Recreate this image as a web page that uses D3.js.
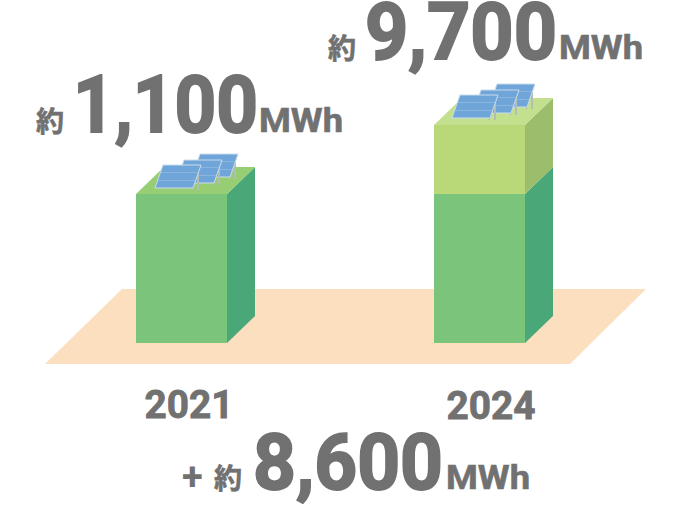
<!DOCTYPE html>
<html>
<head>
<meta charset="utf-8">
<script src="https://cdn.jsdelivr.net/npm/d3@7"></script>
<style>
  html, body { margin: 0; padding: 0; background: #fff; }
  svg { display: block; }
  text { font-family: Roboto, "Noto Sans CJK JP", sans-serif; font-weight: 700; fill: #717171; stroke: #717171; }
</style>
</head>
<body>
<div id="chart"></div>
<script>
// Data
const years = ["2021", "2024"];
const baseValues = [1100, 1100];
const addedValues = [0, 8600];
const totalLabels = ["1,100", "9,700"];
const diffLabel = "8,600";
const unit = "MWh";

const width = 690, height = 507;

// The original is not drawn to scale, so the height scale has a knee at 1,100
const y = d3.scaleLinear().domain([0, 1100, 9700]).range([343, 194, 125]);
const x = d3.scaleOrdinal().domain(years).range([136, 434]);

const barWidth = 91;
const depthX = 28, depthY = 27;

const colors = {
  floor: "#fbdfbf",
  front: "#7bc47b",
  side: "#4aa878",
  top: "#97cd73",
  addedFront: "#b9d978",
  addedSide: "#9cbd6c",
  addedTop: "#c3e08e",
  panel: "#6fa5d9",
  panelEdge: "#c9dcec",
  post: "#b4bdb4"
};

const svg = d3.select("#chart").append("svg")
  .attr("width", width).attr("height", height)
  .attr("viewBox", `0 0 ${width} ${height}`);

const line = d3.line();

// Floor
svg.append("path")
  .attr("d", line([[45, 364], [122, 289], [646, 289], [570, 364]]) + "Z")
  .attr("fill", colors.floor);

function drawBlock(g, x0, yBottom, yTop, front, side) {
  g.append("path")
    .attr("d", line([[x0 + barWidth, yBottom], [x0 + barWidth + depthX, yBottom - depthY],
                     [x0 + barWidth + depthX, yTop - depthY], [x0 + barWidth, yTop]]) + "Z")
    .attr("fill", side);
  g.append("rect")
    .attr("x", x0).attr("y", yTop)
    .attr("width", barWidth).attr("height", yBottom - yTop)
    .attr("fill", front);
}

// One solar panel: px,py is the lower left corner of the tilted face
function drawPanel(g, px, py) {
  const w = 38, h = 23, slant = 8;
  const panel = g.append("g");
  // posts behind the face
  panel.append("path")
    .attr("d", line([[px + w + 5, py - h + 5], [px + w + 5, py + 2]]))
    .attr("stroke", colors.post).attr("stroke-width", 2);
  panel.append("path")
    .attr("d", line([[px + w + slant - 1, py - h + 1], [px + w - 1, py + 2]]))
    .attr("stroke", colors.post).attr("stroke-width", 1.5);
  panel.append("path")
    .attr("d", line([[px, py], [px + slant, py - h], [px + slant + w, py - h], [px + w, py]]) + "Z")
    .attr("fill", colors.panel).attr("stroke", colors.panelEdge).attr("stroke-width", 1);
  [1 / 3, 2 / 3].forEach(t => {
    panel.append("path")
      .attr("d", line([[px + t * slant, py - t * h], [px + t * slant + w, py - t * h]]))
      .attr("stroke", colors.panelEdge).attr("stroke-width", 0.5).attr("opacity", 0.7);
  });
}

years.forEach((year, i) => {
  const g = svg.append("g");
  const x0 = x(year);
  const yBase = y(baseValues[i]);
  const yTotal = y(baseValues[i] + addedValues[i]);
  const added = addedValues[i] > 0;

  drawBlock(g, x0, y(0), yBase, colors.front, colors.side);
  if (added) drawBlock(g, x0, yBase, yTotal, colors.addedFront, colors.addedSide);

  g.append("path")
    .attr("d", line([[x0, yTotal], [x0 + depthX, yTotal - depthY],
                     [x0 + barWidth + depthX, yTotal - depthY], [x0 + barWidth, yTotal]]) + "Z")
    .attr("fill", added ? colors.addedTop : colors.top);

  // panels, back to front
  const ox = x0 + (added ? 18 : 19);
  const oy = yTotal - (added ? 7 : 6);
  drawPanel(g, ox + 37, oy - 11);
  drawPanel(g, ox + 21, oy - 5);
  drawPanel(g, ox, oy);
});

// Year labels
svg.selectAll(".year").data(years).join("text")
  .attr("class", "year")
  .attr("x", d => x(d) + (d === "2021" ? 53 : 57))
  .attr("y", d => d === "2021" ? 418 : 419)
  .attr("text-anchor", "middle")
  .attr("font-size", 38)
  .attr("stroke-width", 0.8)
  .attr("textLength", 89).attr("lengthAdjust", "spacingAndGlyphs")
  .text(d => d);

// Big figure = kanji prefix + number + unit
function bigLabel(o) {
  const g = svg.append("g");
  if (o.plus) {
    g.append("text").attr("x", o.plus).attr("y", o.base + 1)
      .attr("font-size", 38).attr("stroke-width", 0).text("+");
  }
  g.append("text").attr("x", o.kanjiX).attr("y", o.base)
    .attr("font-size", 28).attr("font-family", '"Noto Sans CJK JP"').attr("font-weight", 900)
    .attr("stroke-width", 0.6)
    .text("約");
  g.append("text").attr("x", o.numX).attr("y", o.base)
    .attr("font-size", o.size)
    .attr("stroke-width", 2)
    .attr("textLength", o.numW).attr("lengthAdjust", "spacingAndGlyphs")
    .text(o.text);
  g.append("text").attr("x", o.unitX).attr("y", o.base)
    .attr("font-size", 33)
    .attr("stroke-width", 0.6)
    .attr("textLength", 84).attr("lengthAdjust", "spacingAndGlyphs")
    .text(unit);
}

bigLabel({ kanjiX: 36, numX: 73, numW: 185, unitX: 259, base: 132, size: 80, text: totalLabels[0] });
bigLabel({ kanjiX: 328, numX: 365, numW: 192, unitX: 559, base: 59, size: 80, text: totalLabels[1] });
bigLabel({ plus: 182, kanjiX: 214, numX: 253, numW: 190, unitX: 446, base: 489, size: 78, text: diffLabel });
</script>
</body>
</html>
